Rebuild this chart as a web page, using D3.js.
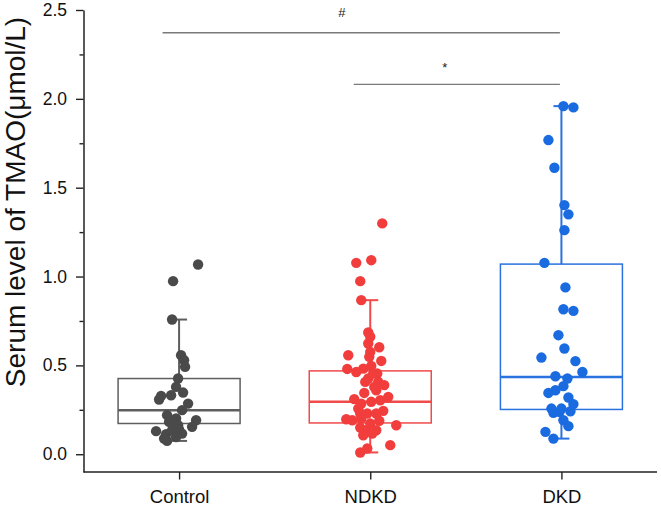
<!DOCTYPE html>
<html>
<head>
<meta charset="utf-8">
<script src="https://cdn.jsdelivr.net/npm/d3@7"></script>
<style>
  html, body { margin: 0; padding: 0; background: #fff; }
  svg { display: block; font-family: "Liberation Sans", Arial, sans-serif; }
</style>
</head>
<body>
<svg id="chart" width="661" height="510"></svg>
<script>
// ---------------- data ----------------
const categories = ["Control", "NDKD", "DKD"];

const controlValues = [1.068, 0.974, 0.758, 0.557, 0.529, 0.492, 0.426, 0.379, 0.347, 0.328,
  0.308, 0.332, 0.285, 0.248, 0.220, 0.201, 0.191, 0.154, 0.182, 0.163,
  0.130, 0.113, 0.116, 0.075, 0.135, 0.139, 0.088, 0.097];
const controlJitter = [19, -6, -7, 2, 5, 6, -1, -3, 4, -18, -20, -8, 9, 3, -12, -3, 17, 13, -10, -1,
  -23, -13, 3, -12, -7, 0, -15, -3];

const ndkdValues = [1.299, 1.077, 1.092, 0.974, 0.867, 0.685, 0.661, 0.623, 0.602, 0.557,
  0.548, 0.525, 0.497, 0.480, 0.482, 0.463, 0.454, 0.426, 0.407, 0.389,
  0.360, 0.345, 0.323, 0.310, 0.285, 0.295, 0.244, 0.257, 0.229, 0.229,
  0.197, 0.191, 0.200, 0.173, 0.188, 0.150, 0.135, 0.135, 0.163, 0.107,
  0.116, 0.051, 0.010, 0.032, 0.407, 0.454, 0.229, 0.304, 0.379, 0.576];
const ndkdJitter = [12, -14, 1, -10, -9, -2, 0, -2, 9, -22, -1, 11, 1, -23, -7, -14, 7, -2, 8, 14,
  6, -6, 18, -16, -9, 1, 13, -12, -3, 6, -24, -18, -9, 0, 9, -10, -4, 6, 26, -7,
  2, 20, -10, -3, -5, 3, -10, 10, 4, 0];

const dkdValues = [1.959, 1.952, 1.768, 1.612, 1.402, 1.350, 1.261, 1.077, 0.939, 0.816,
  0.807, 0.670, 0.595, 0.544, 0.524, 0.463, 0.439, 0.426, 0.383, 0.360,
  0.345, 0.319, 0.282, 0.257, 0.238, 0.242, 0.233, 0.191, 0.158, 0.126,
  0.088, 0.257];
const dkdJitter = [2, 12, -13, -7, 3, 7, 3, -17, 4, 2, 12, -3, 3, -20, 14, 21, -6, 6, 2, -6,
  -13, 7, 12, -10, -2, 9, -8, 2, 7, -16, -8, 0];

// box statistics: [whiskerLow, q1, median, q3, whiskerHigh]
const controlBox = [0.075, 0.173, 0.248, 0.426, 0.758];
const ndkdBox = [0.010, 0.176, 0.295, 0.469, 0.867];
const dkdBox = [0.088, 0.252, 0.435, 1.070, 1.959];

const yTicks = [0.0, 0.5, 1.0, 1.5, 2.0, 2.5];
const yMinorTicks = [0.25, 0.75, 1.25, 1.75, 2.25];

const sigFrom = ["Control", "NDKD"];
const sigTo = ["DKD", "DKD"];
const sigLevel = [2.372, 2.082];
const sigLabel = ["#", "*"];

const colors = { Control: "#4a4a4a", NDKD: "#f23d3d", DKD: "#1a6ae0" };
const boxColors = { Control: "#5e5e5e", NDKD: "#f04a4a", DKD: "#2a72e0" };

const groups = [
  { name: "Control", values: controlValues, jitter: controlJitter, box: controlBox },
  { name: "NDKD", values: ndkdValues, jitter: ndkdJitter, box: ndkdBox },
  { name: "DKD", values: dkdValues, jitter: dkdJitter, box: dkdBox }
];

// ---------------- chart ----------------
const svg = d3.select("#chart");
const x = d3.scalePoint().domain(categories).range([83.5, 657]).padding(0.5);
const y = d3.scaleLinear().domain([-0.1, 2.5]).range([472, 10]);
const boxHalf = 61;
const capHalf = 8;

// y axis minor ticks
svg.append("g")
  .attr("transform", "translate(83.5,0)")
  .call(d3.axisLeft(y).tickValues(yMinorTicks).tickSize(4).tickFormat(""))
  .call(g => g.select(".domain").remove())
  .call(g => g.selectAll("line").attr("stroke", "#222").attr("stroke-width", 1.4));

// y axis
const yAxis = svg.append("g")
  .attr("transform", "translate(83.5,0)")
  .call(d3.axisLeft(y).tickValues(yTicks).tickSize(7.5).tickSizeOuter(0).tickPadding(9)
    .tickFormat(d3.format(".1f")));
yAxis.select(".domain").attr("stroke", "#222").attr("stroke-width", 1.5);
yAxis.selectAll("line").attr("stroke", "#222").attr("stroke-width", 1.4);
yAxis.selectAll("text").attr("font-size", 17.5).attr("fill", "#111")
  .attr("font-family", "Liberation Sans, Arial, sans-serif");

// x axis
const xAxis = svg.append("g")
  .attr("transform", "translate(0,472)")
  .call(d3.axisBottom(x).tickSize(7.5).tickSizeOuter(0).tickPadding(10));
xAxis.select(".domain").attr("stroke", "#222").attr("stroke-width", 1.5)
  .attr("d", `M83.5,0H657`);
xAxis.selectAll("line").attr("stroke", "#222").attr("stroke-width", 1.4);
xAxis.selectAll("text").attr("font-size", 18.5).attr("fill", "#111")
  .attr("font-family", "Liberation Sans, Arial, sans-serif");

// y title
svg.append("text")
  .attr("transform", `translate(25,${202}) rotate(-90)`)
  .attr("text-anchor", "middle")
  .attr("font-size", 28)
  .attr("fill", "#111")
  .text("Serum level of TMAO(μmol/L)");

// boxes
groups.forEach(g => {
  const cx = x(g.name);
  const [wl, q1, med, q3, wh] = g.box;
  const col = boxColors[g.name];
  const bg = svg.append("g");
  bg.append("line").attr("x1", cx).attr("x2", cx).attr("y1", y(q3)).attr("y2", y(wh))
    .attr("stroke", col).attr("stroke-width", 2);
  bg.append("line").attr("x1", cx).attr("x2", cx).attr("y1", y(q1)).attr("y2", y(wl))
    .attr("stroke", col).attr("stroke-width", 2);
  [wl, wh].forEach(v => {
    bg.append("line").attr("x1", cx - capHalf).attr("x2", cx + capHalf)
      .attr("y1", y(v)).attr("y2", y(v)).attr("stroke", col).attr("stroke-width", 2);
  });
  bg.append("rect")
    .attr("x", cx - boxHalf).attr("width", boxHalf * 2)
    .attr("y", y(q3)).attr("height", y(q1) - y(q3))
    .attr("fill", "none").attr("stroke", col).attr("stroke-width", 1.5);
  bg.append("line").attr("x1", cx - boxHalf).attr("x2", cx + boxHalf)
    .attr("y1", y(med)).attr("y2", y(med)).attr("stroke", col).attr("stroke-width", 2.5);
});

// points
groups.forEach(g => {
  svg.append("g").selectAll("circle")
    .data(g.values.map((v, i) => ({ v, j: g.jitter[i] })))
    .join("circle")
    .attr("cx", d => x(g.name) + d.j)
    .attr("cy", d => y(d.v))
    .attr("r", 5.2)
    .attr("fill", colors[g.name]);
});

// significance annotations
sigLevel.forEach((lv, i) => {
  const x1 = x(sigFrom[i]) - 16.5;
  const x2 = x(sigTo[i]) - 1.5;
  svg.append("line").attr("x1", x1).attr("x2", x2).attr("y1", y(lv)).attr("y2", y(lv))
    .attr("stroke", "#7a7a7a").attr("stroke-width", 1.3);
  const mid = (x1 + x2) / 2;
  svg.append("text")
    .attr("x", i === 0 ? mid - 19.5 : mid - 12)
    .attr("y", y(lv) - (i === 0 ? 16 : 12))
    .attr("text-anchor", "middle")
    .attr("font-size", 13)
    .attr("fill", "#222")
    .text(sigLabel[i]);
});
</script>
</body>
</html>
